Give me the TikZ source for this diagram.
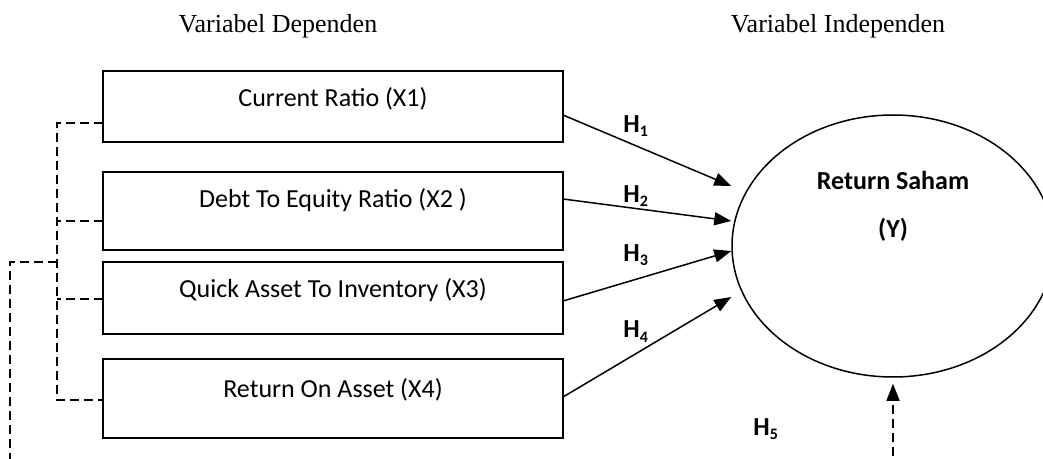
\documentclass[tikz,border=0pt]{standalone}
\usepackage{fontspec}
\setmainfont{Liberation Serif}
\newfontfamily\carlito{Carlito}
\usetikzlibrary{shapes.geometric,arrows.meta,calc}
\newcommand\hsub[1]{H\raisebox{-2pt}{\fontsize{8}{9}\selectfont #1}}
\tikzset{
  box/.style={draw, line width=1pt, minimum width=230pt, inner sep=0pt, outer sep=0pt},
  boxtext/.style={anchor=base, font=\carlito\fontsize{13}{15}\selectfont, inner sep=0pt},
  head/.style={anchor=base, font=\fontsize{13}{15}\selectfont, inner sep=0pt},
  hyp/.style={anchor=base west, font=\carlito\bfseries\fontsize{13}{15}\selectfont, inner sep=0pt},
  ytext/.style={anchor=base, font=\carlito\bfseries\fontsize{13}{15}\selectfont, inner sep=0pt},
  link/.style={-{Triangle[length=8.5pt,width=6.5pt]}, line width=0.75pt},
  dashlink/.style={line width=0.75pt, dash pattern=on 4.5pt off 2.5pt},
}
\begin{document}
\begin{tikzpicture}[x=0.5pt,y=-0.5pt]
\clip (0,0) rectangle (1043,459);

% column headings
\node[head] (hdep) at (278,33) {Variabel Dependen};
\node[head] (hind) at (838,33) {Variabel Independen};

% predictor boxes
\node[box, minimum height=35.5pt] (b1) at (333,106.5) {};
\node[box, minimum height=39pt]   (b2) at (333,211) {};
\node[box, minimum height=36pt]   (b3) at (333,298) {};
\node[box, minimum height=39.5pt] (b4) at (333,398.5) {};
\node[boxtext] (l1) at ([yshift=-18pt]b1.north) {Current Ratio (X1)};
\node[boxtext] (l2) at ([yshift=-18pt]b2.north) {Debt To Equity Ratio (X2 )};
\node[boxtext] (l3) at ([yshift=-18pt]b3.north) {Quick Asset To Inventory (X3)};
\node[boxtext] (l4) at ([yshift=-19pt]b4.north) {Return On Asset (X4)};

% dependent variable
\node[draw, ellipse, line width=0.75pt, minimum width=161pt, minimum height=131pt, inner sep=0pt] (Y) at (893,246) {};
\node[ytext] (ys) at (893,190) {Return Saham};
\node[ytext] (yy) at (893,238) {(Y)};

% partial hypotheses
\coordinate (e1) at ([yshift=30pt]Y.west);
\coordinate (e2) at ([yshift=12.5pt]Y.west);
\coordinate (e3) at ([yshift=-2.5pt]Y.west);
\coordinate (e4) at ([yshift=-25.5pt]Y.west);
\draw[link] ([yshift=-4.25pt]b1.east) -- (e1);
\draw[link] ([yshift=6pt]b2.east) -- (e2);
\draw[link] ([yshift=-1.5pt]b3.east) -- (e3);
\draw[link] ([yshift=0.75pt]b4.east) -- (e4);
\node[hyp] (h1) at (623,133) {\hsub{1}};
\node[hyp] (h2) at (623,203) {\hsub{2}};
\node[hyp] (h3) at (623,262) {\hsub{3}};
\node[hyp] (h4) at (623,338) {\hsub{4}};
\node[hyp] (h5) at (753,435) {\hsub{5}};

% simultaneous hypothesis bracket
\coordinate (spine) at (57,0);
\coordinate (k1) at ([yshift=-8.25pt]b1.west);
\coordinate (k2) at ([yshift=-5pt]b2.west);
\coordinate (k3) at ([yshift=-0.5pt]b3.west);
\coordinate (k4) at ([yshift=-0.75pt]b4.west);
\draw[dashlink] (k1) -- (k1 -| spine) -- (k4 -| spine) -- (k4);
\draw[dashlink] (k2) -- (k2 -| spine);
\draw[dashlink] (k3) -- (k3 -| spine);
\coordinate (j) at (57,262);
\coordinate (o1) at (10,262);
\coordinate (o2) at (10,470);
\draw[dashlink] (j) -- (o1) -- (o2);
\coordinate (u) at (893,470);
\draw[dashlink, link] (u) -- ([yshift=-3pt]Y.south);
\end{tikzpicture}
\end{document}
